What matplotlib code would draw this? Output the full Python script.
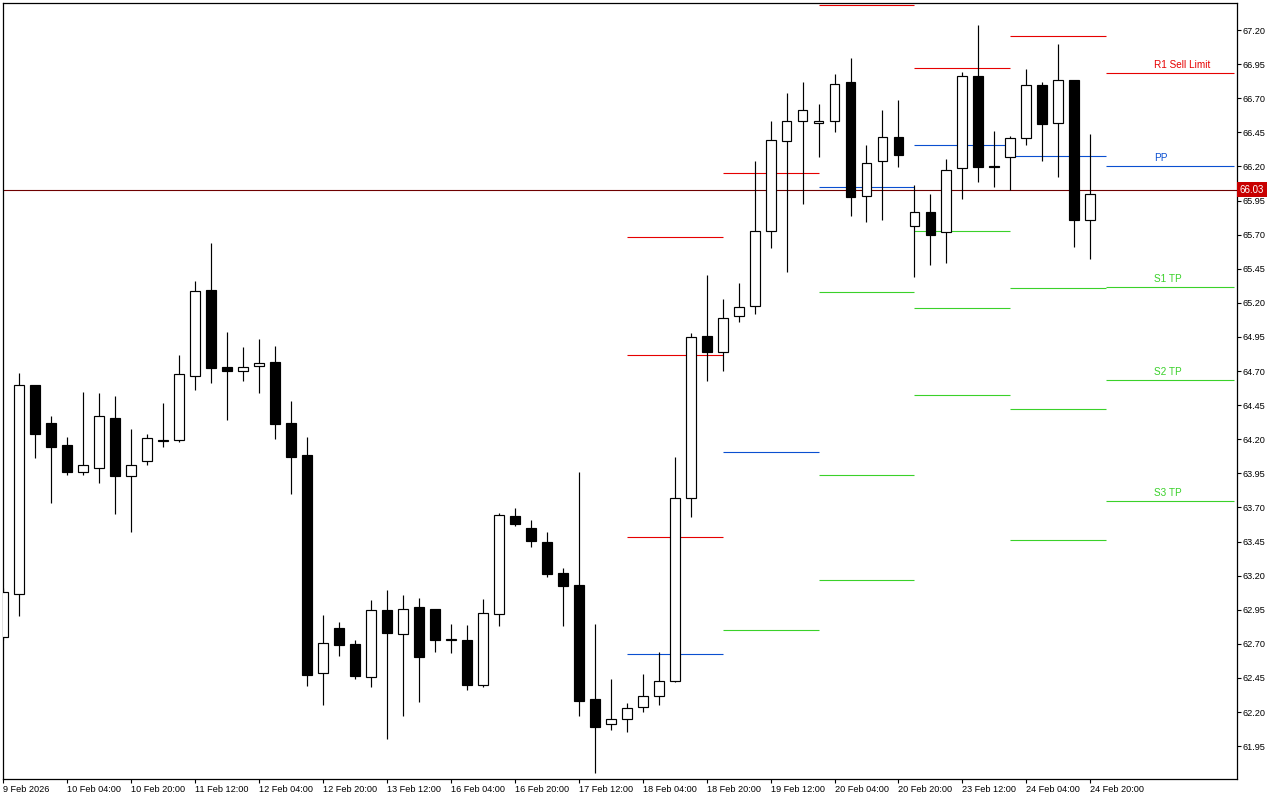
import matplotlib.pyplot as plt
import numpy as np

plt.rcParams['font.family'] = ['Liberation Sans', 'DejaVu Sans']

# 4H candles, 9 Feb 12:00 .. 24 Feb 20:00
opens = [62.752, 63.063, 64.598, 64.319, 64.158, 63.957, 63.991, 64.353, 63.933, 64.038,
         64.190, 64.192, 64.661, 65.292, 64.729, 64.698, 64.735, 64.766, 64.319, 64.084,
         62.484, 62.816, 62.699, 62.455, 62.946, 62.774, 62.968, 62.953, 62.730, 62.726,
         62.396, 62.917, 63.635, 63.547, 63.444, 63.217, 63.129, 62.293, 62.110, 62.147,
         62.236, 62.315, 62.425, 63.768, 64.954, 64.836, 65.100, 65.174, 65.724, 66.384,
         66.531, 66.516, 66.531, 66.819, 65.981, 66.237, 66.416, 65.761, 65.866, 65.717,
         66.186, 66.863, 66.203, 66.267, 66.406, 66.797, 66.516, 66.831, 65.805]
highs = [63.109, 64.683, 64.600, 64.370, 64.216, 64.546, 64.539, 64.517, 64.275, 64.236,
         64.466, 64.817, 65.360, 65.638, 64.986, 64.876, 64.935, 64.883, 64.480, 64.216,
         62.911, 62.860, 62.728, 63.021, 63.095, 63.058, 63.036, 62.955, 62.845, 62.838,
         63.029, 63.659, 63.696, 63.608, 63.518, 63.256, 63.960, 62.845, 62.442, 62.264,
         62.480, 62.639, 64.069, 64.982, 65.404, 65.229, 65.345, 66.240, 66.533, 66.738,
         66.819, 66.658, 66.877, 66.995, 66.357, 66.614, 66.687, 66.062, 65.998, 66.254,
         66.892, 67.237, 66.460, 66.423, 66.914, 66.819, 67.100, 66.831, 66.438]
lows = [62.728, 62.904, 64.065, 63.735, 63.940, 63.940, 63.881, 63.654, 63.522, 64.013,
        64.145, 64.182, 64.563, 64.614, 64.343, 64.629, 64.541, 64.204, 63.801, 62.393,
        62.254, 62.613, 62.444, 62.386, 62.005, 62.173, 62.276, 62.642, 62.635, 62.364,
        62.386, 62.833, 63.566, 63.412, 63.192, 62.833, 62.173, 61.755, 62.070, 62.056,
        62.197, 62.254, 62.420, 63.631, 64.629, 64.702, 65.062, 65.120, 65.604, 65.428,
        65.921, 66.271, 66.454, 65.839, 65.795, 65.809, 66.198, 65.387, 65.479, 65.494,
        65.963, 66.088, 66.051, 66.025, 66.359, 66.242, 66.125, 65.611, 65.523]
closes = [63.078, 64.598, 64.240, 64.145, 63.962, 64.009, 64.368, 63.933, 64.009, 64.207,
          64.195, 64.676, 65.284, 64.724, 64.702, 64.727, 64.757, 64.314, 64.072, 62.474,
          62.704, 62.694, 62.466, 62.946, 62.782, 62.953, 62.606, 62.730, 62.736, 62.400,
          62.924, 63.642, 63.581, 63.456, 63.214, 63.126, 62.283, 62.093, 62.147, 62.226,
          62.315, 62.425, 63.768, 64.946, 64.841, 65.092, 65.166, 65.724, 66.391, 66.531,
          66.611, 66.531, 66.802, 65.978, 66.223, 66.416, 66.281, 65.864, 65.699, 66.171,
          66.861, 66.198, 66.193, 66.406, 66.795, 66.513, 66.831, 65.805, 65.996]

time_labels = ['9 Feb 2026', '10 Feb 04:00', '10 Feb 20:00', '11 Feb 12:00', '12 Feb 04:00',
               '12 Feb 20:00', '13 Feb 12:00', '16 Feb 04:00', '16 Feb 20:00', '17 Feb 12:00',
               '18 Feb 04:00', '18 Feb 20:00', '19 Feb 12:00', '20 Feb 04:00', '20 Feb 20:00',
               '23 Feb 12:00', '24 Feb 04:00', '24 Feb 20:00']

# daily pivot levels (18, 19, 20, 23, 24, 25 Feb)
day_start = [39, 45, 51, 57, 63, 69]
day_end = [45, 51, 57, 63, 69, 77]
piv_r3 = [65.682, np.nan, np.nan, np.nan, np.nan, np.nan]
piv_r2 = [64.817, np.nan, np.nan, np.nan, np.nan, np.nan]
piv_r1 = [63.483, 66.152, 67.383, 66.921, 67.156, 66.885]
piv_pp = [62.625, 64.103, 66.047, 66.357, 66.274, 66.203]
piv_s1 = [np.nan, 62.801, 65.277, 65.724, 65.306, 65.316]
piv_s2 = [np.nan, np.nan, 63.938, 65.160, 64.422, 64.634]
piv_s3 = [np.nan, np.nan, 63.168, 64.524, 63.461, 63.747]
last_labels = ['R1 Sell Limit', 'PP', 'S1 TP', 'S2 TP', 'S3 TP']

price_now = 66.03

RED = '#e60000'
BLUE = '#0a4fd0'
GREEN = '#3ad12a'

fig = plt.figure(figsize=(12.8, 8), dpi=100)
ax = fig.add_axes([3 / 1280, 21 / 800, 1234 / 1280, 776 / 800])

x = np.arange(len(opens))
o = np.array(opens)
c = np.array(closes)
up = c >= o

# wicks then bodies
ax.vlines(x, lows, highs, color='black', lw=0.85, zorder=2)
ax.bar(x, np.abs(c - o), bottom=np.minimum(o, c), width=0.62,
       color=np.where(up, 'white', 'black'), edgecolor='black', lw=0.85, zorder=3)

# pivot segments
for levels, col in [(piv_r3, RED), (piv_r2, RED), (piv_r1, RED), (piv_pp, BLUE),
                    (piv_s1, GREEN), (piv_s2, GREEN), (piv_s3, GREEN)]:
    for lv, a, b in zip(levels, day_start, day_end):
        if not np.isnan(lv):
            ax.hlines(lv, a, b, colors=col, lw=0.8, zorder=1)

label_levels = [piv_r1[-1], piv_pp[-1], piv_s1[-1], piv_s2[-1], piv_s3[-1]]
label_cols = [RED, BLUE, GREEN, GREEN, GREEN]
for txt, lv, col in zip(last_labels, label_levels, label_cols):
    ax.text(72, lv + 0.02, txt, color=col, fontsize=7.2, ha='left', va='bottom')

# current price line + tag
ax.axhline(price_now, color='#6e0000', lw=0.8, zorder=1)
ax.annotate(f'{price_now:.2f}', xy=(1.0, price_now), xycoords=('axes fraction', 'data'),
            xytext=(2, 0), textcoords='offset points', ha='left', va='center',
            fontsize=7, color='white',
            bbox=dict(boxstyle='square,pad=0.25', fc='#c80000', ec='none'))

ax.set_xlim(0.044, 77.17)
ax.set_ylim(61.709, 67.398)

ax.yaxis.tick_right()
yt = np.arange(61.95, 67.21, 0.25)
ax.set_yticks(yt)
ax.set_yticklabels([f'{v:.2f}' for v in yt])
ax.tick_params(axis='y', direction='out', length=3, width=0.8, pad=1, labelsize=6.6)

ax.set_xticks(np.arange(0, 4 * len(time_labels), 4))
ax.set_xticklabels(time_labels, ha='left')
ax.tick_params(axis='x', direction='out', length=3, width=0.8, pad=1, labelsize=6.6)

for s in ax.spines.values():
    s.set_linewidth(0.9)
    s.set_color('black')

fig.savefig('out.png', dpi=100, facecolor='white')
